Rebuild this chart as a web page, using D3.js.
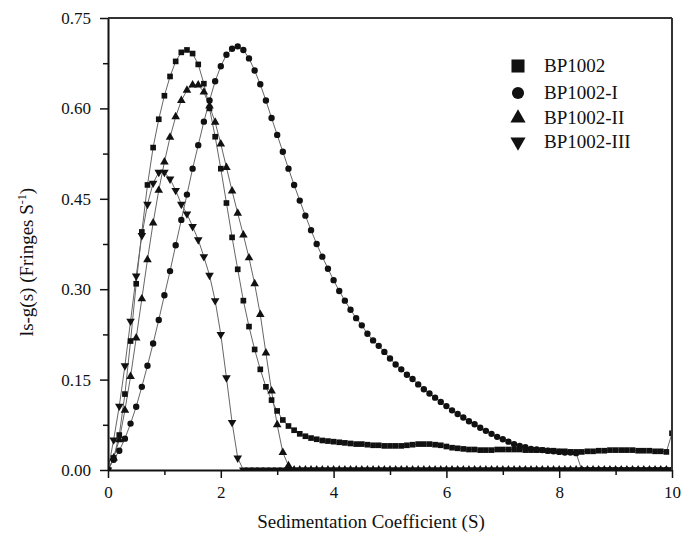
<!DOCTYPE html>
<html>
<head>
<meta charset="utf-8">
<script src="https://cdn.jsdelivr.net/npm/d3@7"></script>
<style>
  body { margin: 0; background: #fff; }
  svg { font-family: "Liberation Serif", "Times New Roman", serif; }
</style>
</head>
<body>
<div id="chart"></div>
<script>
// sedimentation coefficient grid (S), one sample every 0.1 S
const sValues = [
  0.0, 0.1, 0.2, 0.3, 0.4, 0.5, 0.6, 0.7, 0.8, 0.9,
  1.0, 1.1, 1.2, 1.3, 1.4, 1.5, 1.6, 1.7, 1.8, 1.9,
  2.0, 2.1, 2.2, 2.3, 2.4, 2.5, 2.6, 2.7, 2.8, 2.9,
  3.0, 3.1, 3.2, 3.3, 3.4, 3.5, 3.6, 3.7, 3.8, 3.9,
  4.0, 4.1, 4.2, 4.3, 4.4, 4.5, 4.6, 4.7, 4.8, 4.9,
  5.0, 5.1, 5.2, 5.3, 5.4, 5.5, 5.6, 5.7, 5.8, 5.9,
  6.0, 6.1, 6.2, 6.3, 6.4, 6.5, 6.6, 6.7, 6.8, 6.9,
  7.0, 7.1, 7.2, 7.3, 7.4, 7.5, 7.6, 7.7, 7.8, 7.9,
  8.0, 8.1, 8.2, 8.3, 8.4, 8.5, 8.6, 8.7, 8.8, 8.9,
  9.0, 9.1, 9.2, 9.3, 9.4, 9.5, 9.6, 9.7, 9.8, 9.9,
  10.0
]

const bp1002 = [
  0.000, 0.020, 0.058, 0.126, 0.214, 0.309, 0.395, 0.473, 0.535, 0.582,
  0.621, 0.653, 0.678, 0.693, 0.697, 0.691, 0.673, 0.641, 0.600, 0.553,
  0.500, 0.443, 0.386, 0.333, 0.281, 0.238, 0.200, 0.167, 0.138, 0.116,
  0.098, 0.083, 0.073, 0.066, 0.060, 0.056, 0.053, 0.051, 0.049, 0.048,
  0.047, 0.046, 0.045, 0.044, 0.043, 0.043, 0.042, 0.041, 0.041, 0.040,
  0.040, 0.040, 0.040, 0.041, 0.042, 0.043, 0.043, 0.043, 0.042, 0.041,
  0.039, 0.037, 0.036, 0.035, 0.034, 0.034, 0.033, 0.033, 0.033, 0.034,
  0.034, 0.034, 0.034, 0.034, 0.033, 0.033, 0.033, 0.033, 0.032, 0.032,
  0.031, 0.031, 0.030, 0.030, 0.030, 0.031, 0.031, 0.032, 0.032, 0.033,
  0.033, 0.033, 0.033, 0.033, 0.032, 0.032, 0.032, 0.031, 0.031, 0.030,
  0.061
]

const bp1002I = [
  0.000, 0.017, 0.032, 0.052, 0.077, 0.105, 0.138, 0.173, 0.210, 0.249,
  0.290, 0.330, 0.373, 0.415, 0.457, 0.500, 0.539, 0.578, 0.613, 0.645,
  0.670, 0.689, 0.699, 0.703, 0.697, 0.683, 0.663, 0.640, 0.613, 0.584,
  0.556, 0.528, 0.500, 0.473, 0.447, 0.422, 0.398, 0.375, 0.354, 0.334,
  0.315, 0.297, 0.281, 0.266, 0.252, 0.240, 0.226, 0.215, 0.206, 0.196,
  0.185, 0.175, 0.167, 0.158, 0.151, 0.142, 0.134, 0.127, 0.120, 0.113,
  0.106, 0.099, 0.093, 0.087, 0.081, 0.076, 0.070, 0.065, 0.060, 0.055,
  0.051, 0.047, 0.043, 0.040, 0.038, 0.035, 0.034, 0.033, 0.032, 0.031,
  0.030, 0.029, 0.029, 0.028, 0.000, 0.000, 0.000, 0.000, 0.000, 0.000,
  0.000, 0.000, 0.000, 0.000, 0.000, 0.000, 0.000, 0.000, 0.000, 0.000,
  0.000
]

const bp1002II = [
  0.000, 0.020, 0.050, 0.099, 0.155, 0.219, 0.284, 0.349, 0.410, 0.464,
  0.511, 0.552, 0.586, 0.613, 0.630, 0.639, 0.639, 0.627, 0.604, 0.577,
  0.541, 0.502, 0.463, 0.426, 0.390, 0.352, 0.309, 0.258, 0.194, 0.131,
  0.075, 0.029, 0.007, 0.000, 0.000, 0.000, 0.000, 0.000, 0.000, 0.000,
  0.000, 0.000, 0.000, 0.000, 0.000, 0.000, 0.000, 0.000, 0.000, 0.000,
  0.000, 0.000, 0.000, 0.000, 0.000, 0.000, 0.000, 0.000, 0.000, 0.000,
  0.000, 0.000, 0.000, 0.000, 0.000, 0.000, 0.000, 0.000, 0.000, 0.000,
  0.000, 0.000, 0.000, 0.000, 0.000, 0.000, 0.000, 0.000, 0.000, 0.000,
  0.000, 0.000, 0.000, 0.000, 0.000, 0.000, 0.000, 0.000, 0.000, 0.000,
  0.000, 0.000, 0.000, 0.000, 0.000, 0.000, 0.000, 0.000, 0.000, 0.000,
  0.000
]

const bp1002III = [
  0.000, 0.050, 0.106, 0.173, 0.247, 0.322, 0.389, 0.441, 0.476, 0.494,
  0.494, 0.483, 0.464, 0.441, 0.425, 0.404, 0.382, 0.354, 0.323, 0.281,
  0.225, 0.153, 0.079, 0.020, 0.000, 0.000, 0.000, 0.000, 0.000, 0.000,
  0.000, 0.000, 0.000, 0.000, 0.000, 0.000, 0.000, 0.000, 0.000, 0.000,
  0.000, 0.000, 0.000, 0.000, 0.000, 0.000, 0.000, 0.000, 0.000, 0.000,
  0.000, 0.000, 0.000, 0.000, 0.000, 0.000, 0.000, 0.000, 0.000, 0.000,
  0.000, 0.000, 0.000, 0.000, 0.000, 0.000, 0.000, 0.000, 0.000, 0.000,
  0.000, 0.000, 0.000, 0.000, 0.000, 0.000, 0.000, 0.000, 0.000, 0.000,
  0.000, 0.000, 0.000, 0.000, 0.000, 0.000, 0.000, 0.000, 0.000, 0.000,
  0.000, 0.000, 0.000, 0.000, 0.000, 0.000, 0.000, 0.000, 0.000, 0.000,
  0.000
]

const seriesNames = ["BP1002", "BP1002-I", "BP1002-II", "BP1002-III"]
const xMajorTicks = [0, 2, 4, 6, 8, 10]
const xMinorTicks = [1, 3, 5, 7, 9]
const yMajorTicks = [0, 0.15, 0.30, 0.45, 0.60, 0.75]
const yMinorTicks = [0.075, 0.225, 0.375, 0.525, 0.675]

const width = 682
const height = 537
const margin = { top: 18, right: 10, bottom: 67, left: 108 }

const svg = d3.select("#chart")
  .append("svg")
  .attr("width", width)
  .attr("height", height)

const x = d3.scaleLinear().domain([0, 10]).range([margin.left, width - margin.right])
const y = d3.scaleLinear().domain([0, 0.75]).range([height - margin.bottom, margin.top])

const series = [
  { name: seriesNames[0], values: bp1002, symbol: d3.symbolSquare, size: 32, rot: 0 },
  { name: seriesNames[1], values: bp1002I, symbol: d3.symbolCircle, size: 32, rot: 0 },
  { name: seriesNames[2], values: bp1002II, symbol: d3.symbolTriangle, size: 32, rot: 0 },
  { name: seriesNames[3], values: bp1002III, symbol: d3.symbolTriangle, size: 32, rot: 180 }
]

svg.append("clipPath").attr("id", "plot-clip")
  .append("rect")
  .attr("x", x(0)).attr("y", y(0.75))
  .attr("width", x(10) - x(0)).attr("height", y(0) - y(0.75))

const plot = svg.append("g").attr("clip-path", "url(#plot-clip)")

const line = d3.line()
  .x((d, i) => x(sValues[i]))
  .y(d => y(d))

// connecting lines first, markers on top
series.forEach(s => {
  plot.append("path")
    .attr("d", line(s.values))
    .attr("fill", "none")
    .attr("stroke", "#666")
    .attr("stroke-width", 1)
})

series.forEach(s => {
  plot.append("g").selectAll("path")
    .data(s.values).enter().append("path")
    .attr("d", d3.symbol(s.symbol, s.size))
    .attr("transform", (d, i) => `translate(${x(sValues[i])},${y(d)}) rotate(${s.rot})`)
    .attr("fill", "#111")
})

// axes
svg.append("g")
  .attr("transform", `translate(0,${y(0)})`)
  .call(d3.axisBottom(x).tickValues(xMajorTicks).tickSize(8).tickSizeOuter(0).tickPadding(8))
svg.append("g")
  .attr("transform", `translate(0,${y(0)})`)
  .call(d3.axisBottom(x).tickValues(xMinorTicks).tickSize(5).tickSizeOuter(0).tickFormat(""))
  .call(g => g.select(".domain").remove())

svg.append("g")
  .attr("transform", `translate(${x(0)},0)`)
  .call(d3.axisLeft(y).tickValues(yMajorTicks).tickSize(8).tickSizeOuter(0).tickPadding(9)
    .tickFormat(d3.format(".2f")))
svg.append("g")
  .attr("transform", `translate(${x(0)},0)`)
  .call(d3.axisLeft(y).tickValues(yMinorTicks).tickSize(5).tickSizeOuter(0).tickFormat(""))
  .call(g => g.select(".domain").remove())

svg.selectAll(".domain").attr("stroke", "#111").attr("stroke-width", 2)
svg.selectAll(".tick line").attr("stroke", "#111").attr("stroke-width", 1.5)
svg.selectAll(".tick text")
  .attr("fill", "#111")
  .style("font-family", '"Liberation Serif", "Times New Roman", serif')
  .style("font-size", "17px")

// top and right frame
svg.append("line")
  .attr("x1", x(0)).attr("x2", x(10))
  .attr("y1", y(0.75)).attr("y2", y(0.75))
  .attr("stroke", "#333").attr("stroke-width", 2)
svg.append("line")
  .attr("x1", x(10)).attr("x2", x(10))
  .attr("y1", y(0.75)).attr("y2", y(0))
  .attr("stroke", "#333").attr("stroke-width", 2)

// axis titles
svg.append("text")
  .attr("x", 371)
  .attr("y", 528)
  .attr("text-anchor", "middle")
  .attr("fill", "#111")
  .style("font-size", "19px")
  .text("Sedimentation Coefficient (S)")

const yTitle = svg.append("text")
  .attr("transform", "translate(33,262) rotate(-90)")
  .attr("text-anchor", "middle")
  .attr("fill", "#111")
  .style("font-size", "19px")
yTitle.append("tspan").text("ls-g(s) (Fringes S")
yTitle.append("tspan").attr("dy", -7).style("font-size", "12px").text("-1")
yTitle.append("tspan").attr("dy", 7).text(")")

// legend
const legend = svg.append("g")
const legendY = [66, 93, 118, 142]
const legendSizes = [170, 115, 100, 100]
series.forEach((s, i) => {
  legend.append("path")
    .attr("d", d3.symbol(s.symbol, legendSizes[i]))
    .attr("transform", `translate(518,${legendY[i]}) rotate(${s.rot})`)
    .attr("fill", "#111")
  legend.append("text")
    .attr("x", 544)
    .attr("y", legendY[i] + 6)
    .attr("fill", "#111")
    .style("font-size", "19px")
    .text(s.name)
})
</script>
</body>
</html>
